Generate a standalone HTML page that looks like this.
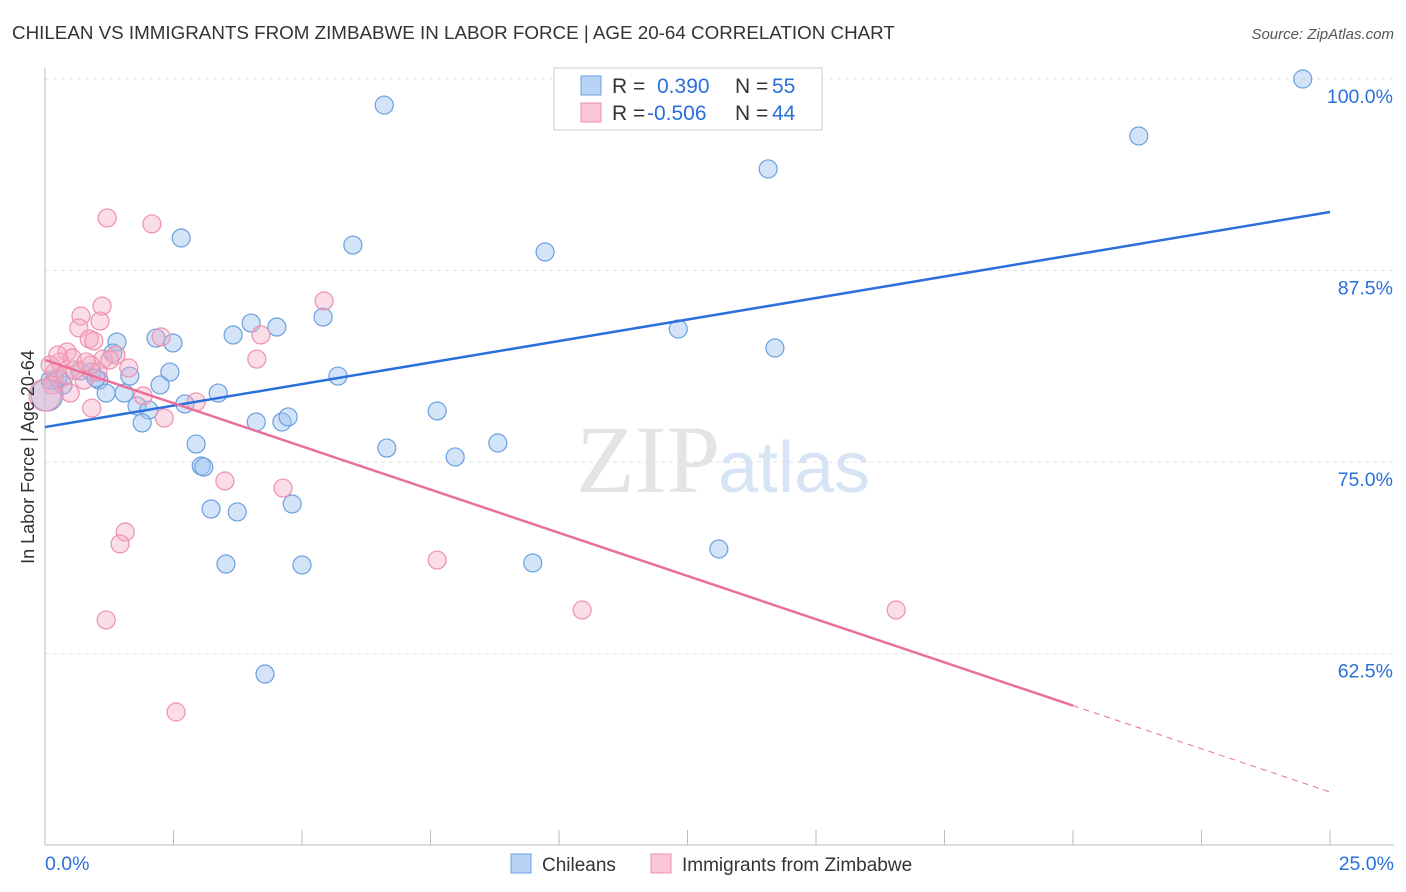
<!DOCTYPE html>
<html><head><meta charset="utf-8"><style>
body{margin:0;background:#fff;font-family:"Liberation Sans",sans-serif}
#c{position:absolute;left:0;top:0}
</style></head><body>
<svg id="c" width="1406" height="892">
<text x="12" y="39" font-size="18.8" fill="#333">CHILEAN VS IMMIGRANTS FROM ZIMBABWE IN LABOR FORCE | AGE 20-64 CORRELATION CHART</text>
<text x="1394" y="39" font-size="15" fill="#555" font-style="italic" text-anchor="end">Source: ZipAtlas.com</text>
<text x="720" y="492" font-size="96" fill="#e4e4e4" text-anchor="end" font-family="Liberation Serif,serif">ZIP</text>
<text x="718" y="492" font-size="72" fill="#d6e4f6">atlas</text>
<g id="grid"></g><g id="pts"></g><g id="lines"></g>
<text transform="translate(34,457) rotate(-90)" font-size="18" fill="#333" text-anchor="middle">In Labor Force | Age 20-64</text>
<rect x="554" y="68" width="268" height="62" fill="#fff" stroke="#ccc"/>
<rect x="581" y="76" width="20" height="19" fill="#b8d3f6" stroke="#6a9fe0"/>
<rect x="581" y="103" width="20" height="19" fill="#fbc6d6" stroke="#ee90ae"/>
<text x="612" y="93" font-size="21" fill="#333">R = <tspan x="657" fill="#2a6fdb">0.390</tspan><tspan x="735" fill="#333">N = </tspan><tspan x="772" fill="#2a6fdb">55</tspan></text>
<text x="612" y="120" font-size="21" fill="#333">R = <tspan x="647" fill="#2a6fdb">-0.506</tspan><tspan x="735" fill="#333">N = </tspan><tspan x="772" fill="#2a6fdb">44</tspan></text>
<rect x="511" y="854" width="20" height="19" fill="#b8d3f6" stroke="#6a9fe0"/>
<text x="542" y="871" font-size="19" fill="#333">Chileans</text>
<rect x="651" y="854" width="20" height="19" fill="#fbc6d6" stroke="#ee90ae"/>
<text x="682" y="871" font-size="19" fill="#333">Immigrants from Zimbabwe</text>
</svg>
<script>
const yTicks=[100,87.5,75,62.5];
const yTickLabels=["100.0%","87.5%","75.0%","62.5%"];
const xTickLabels=["0.0%","25.0%"];
const blueX=[24.47,6.60,21.28,14.07,2.65,5.99,9.73,1.40,2.16,2.49,3.66,4.01,4.51,5.41,12.32,14.20,1.32,0.68,0.91,1.05,1.65,2.43,5.70,0.19,0.35,1.19,1.54,2.24,3.37,1.79,2.02,2.72,1.89,4.11,4.61,4.73,7.63,2.94,6.65,7.98,8.81,3.04,3.09,3.23,3.74,4.81,13.11,3.52,5.00,9.49,4.28,0.04,0.10,0.25,0.99];
const blueY=[100,98.30,96.28,94.13,89.62,89.16,88.71,82.83,83.09,82.77,83.29,84.07,83.81,84.46,83.68,82.44,82.11,80.94,80.87,80.35,80.61,80.87,80.61,80.35,80.03,79.50,79.50,80.03,79.50,78.66,78.39,78.79,77.55,77.61,77.61,77.94,78.33,76.17,75.91,75.33,76.24,74.74,74.67,71.93,71.74,72.26,69.32,68.34,68.28,68.41,61.16,79.37,80.35,80.48,80.48];
const pinkX=[1.21,2.08,1.11,5.43,0.70,0.66,1.07,0.86,0.95,2.26,4.20,1.38,1.13,4.12,0.43,0.53,0.29,0.19,1.63,0.76,0.89,1.91,2.94,0.91,0.49,2.32,3.50,4.63,1.56,1.46,7.63,10.45,16.56,1.19,2.55,0.10,0.14,0.0,0.39,0.58,1.03,1.26,0.25,0.80];
const pinkY=[90.93,90.54,85.18,85.51,84.53,83.75,84.20,83.03,82.90,83.16,83.29,81.98,81.72,81.72,82.18,81.79,81.53,80.87,81.14,80.35,81.33,79.31,78.92,78.52,79.50,77.87,73.76,73.30,70.43,69.65,68.60,65.34,65.34,64.69,58.68,81.33,80.03,79.37,80.68,81.01,80.87,81.66,81.98,81.53];
const blueTrend=[77.28,91.32];
const pinkTrend=[81.66,53.46];
const pinkSolidEnd=20;
const NS="http://www.w3.org/2000/svg";
const X=v=>45+v*51.4, Y=v=>79+(100-v)*15.32;
function mk(t,a,p){const e=document.createElementNS(NS,t);for(const k in a)e.setAttribute(k,a[k]);p.appendChild(e);return e;}
const grid=document.getElementById('grid');
yTicks.forEach((t,i)=>{
 const l=mk('line',{x1:45,x2:1394,y1:Y(t),y2:Y(t),stroke:'#e2e2e2','stroke-dasharray':'4,4'},grid);
 
 
 const tx=mk('text',{x:1393,y:Y(t)+24,'font-size':19.5,fill:'#2a6fdb','text-anchor':'end'},grid);
 tx.textContent=yTickLabels[i];
 
 
});
const ax=mk('line',{x1:45,x2:1394,y1:845,y2:845,stroke:'#bbb'},grid);


const ay=mk('line',{x1:45,x2:45,y1:68,y2:845,stroke:'#bbb'},grid);


for(let i=1;i<=10;i++){const t=mk('line',{x1:X(i*2.5),x2:X(i*2.5),y1:830,y2:845,stroke:'#bbb'},grid);
 
 }
[[0,45,'start'],[25,1394,'end']].forEach((d,i)=>{const t=mk('text',{x:d[1],y:870,'font-size':19.5,fill:'#2a6fdb','text-anchor':d[2]},grid);t.textContent=xTickLabels[i];
 
 });
const pts=document.getElementById('pts');
function dots(xs,ys,fill,stroke,name){xs.forEach((x,i)=>{const r=(x<0.06)?16:9;
 const c=mk('circle',{cx:X(x),cy:Y(ys[i]),r:r,fill:fill,stroke:stroke,'stroke-width':1.2},pts);
 
 });}
dots(blueX,blueY,'rgba(160,196,240,0.45)','#6a9fe0','chilean-point');
dots(pinkX,pinkY,'rgba(245,170,195,0.4)','#ee90ae','zimbabwe-point');
const ln=document.getElementById('lines');
const b=mk('line',{x1:X(0),y1:Y(blueTrend[0]),x2:X(25),y2:Y(blueTrend[1]),stroke:'#2a6fdb','stroke-width':2.5},ln);


const pm=v=>pinkTrend[0]+(pinkTrend[1]-pinkTrend[0])*v/25;
const p1=mk('line',{x1:X(0),y1:Y(pinkTrend[0]),x2:X(pinkSolidEnd),y2:Y(pm(pinkSolidEnd)),stroke:'#e8709a','stroke-width':2.5},ln);


const p2=mk('line',{x1:X(pinkSolidEnd),y1:Y(pm(pinkSolidEnd)),x2:X(25),y2:Y(pinkTrend[1]),stroke:'#e8709a','stroke-width':1,'stroke-dasharray':'6,5'},ln);


</script>
</body></html>
